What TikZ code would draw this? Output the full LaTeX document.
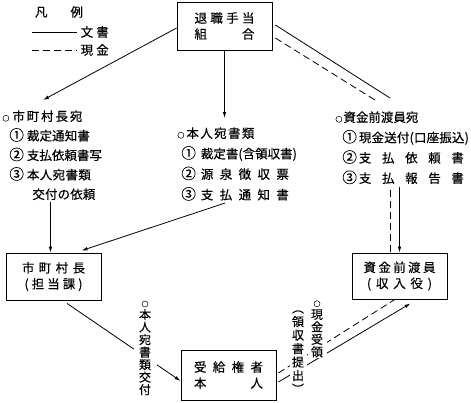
\documentclass[tikz,border=0pt]{standalone}
\usepackage{fontspec}
\setmainfont{Noto Sans CJK JP}[FakeBold=0.3]
\usetikzlibrary{arrows.meta,calc}

% caracteres repartis sur une largeur donnee
\makeatletter
\newcommand{\kintou}[2]{\makebox[#1][s]{\kintou@a#2\relax}}
\def\kintou@a#1{#1\kintou@b}
\def\kintou@b#1{\ifx\relax#1\else\hfill#1\expandafter\kintou@b\fi}
\makeatother
\newcommand{\maru}{{\fontsize{7}{7}\selectfont ○}}
\newcommand{\bango}[1]{{\fontsize{14.5}{14}\selectfont #1}}

\begin{document}
\begin{tikzpicture}[x=1pt,y=-1pt,line width=0.8pt,
	boite/.style={draw,inner sep=0pt,minimum width=95pt,minimum height=48pt,align=center,font=\fontsize{12.5}{16}\selectfont},
	bloc/.style={anchor=north west,inner sep=0pt,align=left,font=\fontsize{12.5}{19.5}\selectfont},
	tate/.style={fill=white,inner ysep=1pt,align=center,font=\fontsize{12}{12.5}\selectfont},
	genkin/.style={dash pattern=on 7pt off 4pt},
	fleche/.style={-{Latex[length=6pt,width=3.5pt]}},
	flecheo/.style={-{Latex[open,length=6pt,width=3.5pt]}}]
\useasboundingbox (0,0) rectangle (471,402);

%Legende
\node[font=\fontsize{12.5}{14}\selectfont] (hanrei) at (59,12) {\kintou{48pt}{凡例}};
\coordinate (bunsho-a) at (32,32);
\coordinate (bunsho-b) at (77,32);
\coordinate (genkin-a) at (32,50);
\coordinate (genkin-b) at (77,50);
\draw (bunsho-a) -- (bunsho-b) node[right,font=\fontsize{12.5}{14}\selectfont] (bunsho-l) {\kintou{28pt}{文書}};
\draw[genkin] (genkin-a) -- (genkin-b) node[right,font=\fontsize{12.5}{14}\selectfont] (genkin-l) {\kintou{28pt}{現金}};

%Boites
\node[boite] (kumiai) at (224.5,26) {\kintou{60pt}{退職手当}\\\kintou{60pt}{組合}};
\node[boite,minimum height=47pt] (choson) at (53.5,276.5) {\kintou{63pt}{市町村長}\\\kintou{58pt}{(担当課)}};
\node[boite,minimum height=46pt] (shikin) at (399.5,276) {\kintou{72pt}{資金前渡員}\\\kintou{65pt}{(収入役)}};
\node[boite,minimum height=50pt] (jukyu) at (228.5,375) {\kintou{69pt}{受給権者}\\\kintou{69pt}{本人}};

%Textes des envois
\node[bloc] (choate) at (2,110) {\maru\hspace{3pt}\kintou{70pt}{市町村長宛}\\
	\hspace*{7pt}\bango{①}\hspace{3pt}\kintou{63pt}{裁定通知書}\\
	\hspace*{7pt}\bango{②}\hspace{3pt}\kintou{75pt}{支払依頼書写}\\
	\hspace*{7pt}\bango{③}\hspace{3pt}\kintou{64pt}{本人宛書類}\\
	\hspace*{30pt}\kintou{63pt}{交付の依頼}};
\node[bloc,font=\fontsize{12.5}{20.5}\selectfont] (honate) at (177,127) {\maru\hspace{2pt}\kintou{68pt}{本人宛書類}\\
	\hspace*{4pt}\bango{①}\hspace{5pt}\kintou{96pt}{裁定書(含領収書)}\\
	\hspace*{4pt}\bango{②}\hspace{5pt}\kintou{88pt}{源泉徴収票}\\
	\hspace*{4pt}\bango{③}\hspace{5pt}\kintou{88pt}{支払通知書}};
\node[bloc,font=\fontsize{12.5}{20.3}\selectfont] (shikinate) at (335,111) {\maru\hspace{1pt}\kintou{75pt}{資金前渡員宛}\\
	\hspace*{7pt}\bango{①}\hspace{2pt}\kintou{110pt}{現金送付(口座振込)}\\
	\hspace*{7pt}\bango{②}\hspace{2pt}\kintou{105pt}{支払依頼書}\\
	\hspace*{7pt}\bango{③}\hspace{2pt}\kintou{105pt}{支払報告書}};

%Liaisons
\draw[fleche] ($(kumiai.west)+(0,2)$) -- ($(choate.north west)+(41,-10)$);
\draw[fleche] (kumiai.south) -- ($(kumiai.south |- honate.north)+(0,-9)$);
\draw ($(kumiai.east)+(3,-1)$) -- ($(shikinate.north west)+(55,-13)$);
\draw[genkin] ($(kumiai.east)+(3,12)$) -- ($(shikinate.north west)+(40,-11)$);

\draw[fleche] ($(choate.south west)+(48.5,2)$) -- ($(choson.north)+(-3,0)$);
\draw[flecheo] ($(honate.south west)+(48,2)$) -- ($(choson.north)+(28,-2)$);

\draw[genkin] ($(shikinate.south west)+(55,5)$) -- ($(shikin.north)+(-9.5,0)$);
\draw[fleche] ($(shikinate.south west)+(64.5,2)$) -- ($(shikin.north)+(0,0)$);

\draw[fleche] ($(choson.south)+(13.5,3)$) -- ($(jukyu.west)+(0,6)$);
\draw[genkin] ($(jukyu.east)+(2,-2)$) -- ($(shikin.south)+(-4.5,0)$);
\draw[fleche] ($(jukyu.east)+(2,7)$) -- ($(shikin.south)+(11,4)$);

%Textes verticaux
\node[tate,inner xsep=5.5pt] (tate-kofu) at (145,348) {\maru\\本\\人\\宛\\書\\類\\交\\付};
\node[tate,inner xsep=3.5pt] (tate-juryo) at (317,329) {\maru\\現\\金\\受\\領};
\node[tate,inner xsep=2.5pt,font=\fontsize{12}{13.5}\selectfont] (tate-teishutsu) at (298,352) {︵\\領\\収\\書\\提\\出\\︶};

\end{tikzpicture}
\end{document}
